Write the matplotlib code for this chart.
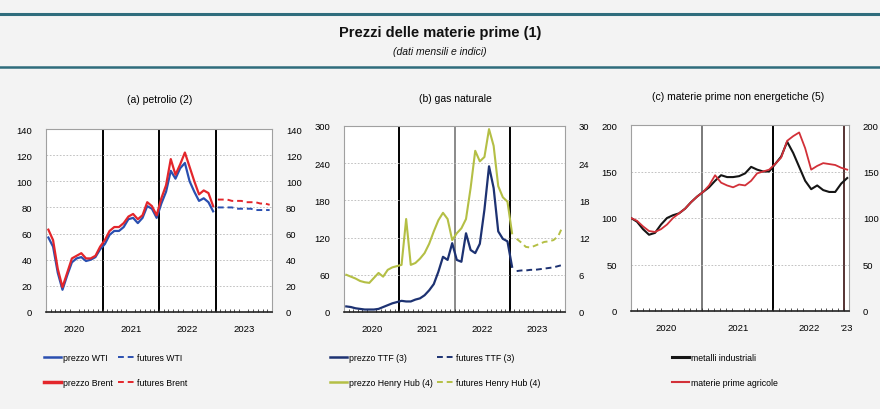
import numpy as np
import matplotlib
matplotlib.use("Agg")
import matplotlib.pyplot as plt
from matplotlib.lines import Line2D

plt.rcParams['font.family'] = ['Liberation Sans', 'DejaVu Sans']

# ---------------- data ----------------
# (a) oil, monthly Jan 2020 - Dec 2022; futures Jan - Dec 2023
brent = [63, 55, 33, 19, 30, 41, 43, 45, 41, 41, 43, 50,
         55, 62, 65, 65, 68, 73, 75, 71, 74, 84, 81, 74,
         87, 97, 117, 105, 113, 122, 111, 100, 90, 93, 91, 81]
wti = [57, 50, 30, 17, 28, 38, 41, 42, 39, 40, 42, 48,
       52, 59, 62, 62, 65, 71, 72, 68, 72, 81, 79, 72,
       83, 92, 108, 102, 110, 114, 100, 92, 85, 87, 84, 77]
fut_brent = [86, 86, 86, 85, 85, 85, 84, 84, 84, 83, 83, 82]
fut_wti = [80, 80, 80, 80, 79, 79, 79, 79, 78, 78, 78, 78]

# (b) gas, monthly Jan 2020 - Jan 2023; futures Feb - Dec 2023
ttf = [9, 8, 6, 5, 4, 4, 4, 5, 8, 11, 14, 16,
       18, 17, 17, 20, 22, 27, 35, 45, 65, 89, 84, 111,
       84, 81, 127, 100, 95, 110, 165, 235, 200, 130, 118, 114,
       73]
henry_hub = [6.0, 5.7, 5.4, 5.0, 4.8, 4.7, 5.5, 6.3, 5.7, 6.8, 7.2, 7.4,
             7.6, 15.0, 7.6, 7.9, 8.6, 9.5, 11.0, 13.0, 14.8, 16.0, 15.0, 11.6,
             12.7, 13.5, 15.0, 20.0, 26.0, 24.3, 25.0, 29.5, 26.8, 20.3, 18.5, 17.8,
             12.7]
fut_ttf = [66, 67, 67, 68, 68, 69, 70, 71, 72, 74, 76]
fut_hh = [11.8, 11.2, 10.5, 10.4, 10.7, 11.0, 11.3, 11.4, 11.6, 12.2, 13.8]

# (c) non-energy commodities index, monthly Jan 2020 - Jan 2023
metals = [100, 96, 88, 82, 84, 93, 100, 103, 105, 110, 117, 123,
          128, 133, 140, 146, 144, 144, 145, 148, 155, 152, 150, 150,
          158, 166, 182, 170, 155, 140, 131, 135, 130, 128, 128, 137,
          143]
agri = [100, 97, 91, 86, 85, 88, 93, 100, 105, 110, 117, 123,
        128, 135, 146, 138, 135, 133, 136, 135, 140, 148, 150, 152,
        158, 165, 183, 188, 192, 175, 152, 156, 159, 158, 157, 154,
        152]

years4 = ['2020', '2021', '2022', '2023']
years_c = ['2020', '2021', '2022', "'23"]

# ---------------- figure ----------------
W, H = 880, 410
fig = plt.figure(figsize=(8.8, 4.1), dpi=100, facecolor='#f3f3f3')

def fx(px):
    return px / W

def fy(py):
    return 1 - py / H

teal = '#2f6c7c'
fig.add_artist(Line2D([0, 1], [fy(15), fy(15)], color=teal, lw=2.2))
fig.add_artist(Line2D([0, 1], [fy(68), fy(68)], color=teal, lw=1.8))
fig.text(0.5, fy(33), 'Prezzi delle materie prime (1)', ha='center', va='center',
         fontsize=10.5, fontweight='bold', color='#111111')
fig.text(0.5, fy(52), '(dati mensili e indici)', ha='center', va='center',
         fontsize=7.5, style='italic', color='#111111')

tick_fs = 6.8

def setup(ax, xmax, ylim, yticks, rticks, rlabels, dividers, div_colors, ylabels, xlabels):
    ax.set_facecolor('white')
    ax.set_xlim(0, xmax)
    ax.set_ylim(*ylim)
    ax.set_yticks(yticks)
    ax.set_yticklabels(ylabels, fontsize=tick_fs)
    ax.grid(axis='y', color='#b8b8b8', lw=0.6, ls=(0, (2, 2)))
    for d, c in zip(dividers, div_colors):
        ax.axvline(d, color=c, lw=1.4, zorder=1)
    centers = [6 + 12 * k for k in range(len(xlabels))]
    if xmax < 40:
        centers[-1] = (36 + xmax) / 2
    ax.set_xticks(centers)
    ax.set_xticklabels(xlabels, fontsize=tick_fs)
    ax.tick_params(axis='x', length=0, pad=9)
    ax.set_xticks(np.arange(0, xmax + 0.01, 1), minor=True)
    ax.tick_params(axis='x', which='minor', direction='in', length=2, color='#333333')
    ax.tick_params(axis='y', length=0, pad=10)
    for s in ['left', 'right', 'top']:
        ax.spines[s].set_color('#a0a0a0')
        ax.spines[s].set_linewidth(0.8)
    ax.spines['bottom'].set_color('#222222')
    ax.spines['bottom'].set_linewidth(1.2)
    r = ax.twinx()
    r.set_ylim(ylim[0] * rticks[-1] / yticks[-1], ylim[1] * rticks[-1] / yticks[-1])
    r.set_yticks(rticks)
    r.set_yticklabels(rlabels, fontsize=tick_fs)
    r.tick_params(axis='y', length=0, pad=10)
    for s in r.spines.values():
        s.set_visible(False)
    return r

# ---- (a) petrolio ----
axa = fig.add_axes([fx(46), fy(313), fx(272 - 46), (313 - 130) / H])
ra = setup(axa, 48, (0, 140), list(range(0, 141, 20)), list(range(0, 141, 20)),
           [str(v) for v in range(0, 141, 20)], [12, 24, 36], ['k', 'k', 'k'],
           [str(v) for v in range(0, 141, 20)], years4)
xm = np.arange(len(brent)) + 0.5
xf = np.arange(len(fut_brent)) + 36.5
c_wti = '#2a4fb0'
c_brent = '#e3262b'
axa.plot(xm, wti, color=c_wti, lw=1.6, zorder=3)
axa.plot(xm, brent, color=c_brent, lw=1.6, zorder=4)
axa.plot(xf, fut_wti, color=c_wti, lw=1.4, ls=(0, (3, 2)), zorder=3)
axa.plot(xf, fut_brent, color=c_brent, lw=1.4, ls=(0, (3, 2)), zorder=4)
fig.text(fx(160), fy(100), '(a) petrolio (2)', ha='center', va='center', fontsize=7.5)
ha = [Line2D([], [], color=c_wti, lw=1.8), Line2D([], [], color=c_brent, lw=2.5),
      Line2D([], [], color=c_wti, lw=1.4, ls=(0, (3, 2))),
      Line2D([], [], color=c_brent, lw=1.4, ls=(0, (3, 2)))]
fig.legend(ha, ['prezzo WTI', 'prezzo Brent', 'futures WTI', 'futures Brent'],
           loc='upper left', bbox_to_anchor=(fx(36), fy(346)), ncol=2, frameon=False,
           fontsize=6.3, handlelength=1.9, handletextpad=0.3, columnspacing=0.6,
           labelspacing=1.85)

# ---- (b) gas naturale ----
axb = fig.add_axes([fx(344), fy(313), fx(565 - 344), (313 - 127) / H])
rb = setup(axb, 48, (0, 300), list(range(0, 301, 60)), list(range(0, 31, 6)),
           [str(v) for v in range(0, 31, 6)], [12, 24, 36], ['k', '#8a8a8a', 'k'],
           [str(v) for v in range(0, 301, 60)], years4)
xg = np.arange(len(ttf)) + 0.5
xgf = np.arange(len(fut_ttf)) + 37.5
c_ttf = '#1d3272'
c_hh = '#b4bf45'
rb.plot(xg, henry_hub, color=c_hh, lw=1.5, zorder=2)
rb.plot(xgf, fut_hh, color=c_hh, lw=1.4, ls=(0, (3, 2)), zorder=2)
rb.set_zorder(axb.get_zorder() + 1)
rb.patch.set_visible(False)
rb.plot(xg, [v / 10 for v in ttf], color=c_ttf, lw=1.6, zorder=3)
rb.plot(xgf, [v / 10 for v in fut_ttf], color=c_ttf, lw=1.4, ls=(0, (3, 2)), zorder=3)
fig.text(fx(455), fy(99), '(b) gas naturale', ha='center', va='center', fontsize=7.5)
hb = [Line2D([], [], color=c_ttf, lw=1.8), Line2D([], [], color=c_hh, lw=1.8),
      Line2D([], [], color=c_ttf, lw=1.4, ls=(0, (3, 2))),
      Line2D([], [], color=c_hh, lw=1.4, ls=(0, (3, 2)))]
fig.legend(hb, ['prezzo TTF (3)', 'prezzo Henry Hub (4)', 'futures TTF (3)',
                'futures Henry Hub (4)'],
           loc='upper left', bbox_to_anchor=(fx(322), fy(346)), ncol=2, frameon=False,
           fontsize=6.3, handlelength=1.9, handletextpad=0.3, columnspacing=0.4,
           labelspacing=1.85)

# ---- (c) materie prime non energetiche ----
axc = fig.add_axes([fx(631), fy(312), fx(849 - 631), (312 - 126) / H])
rc = setup(axc, 36.8, (0, 200), list(range(0, 201, 50)), list(range(0, 201, 50)),
           [str(v) for v in range(0, 201, 50)], [12, 24, 36], ['#7a7a7a', 'k', '#553333'],
           [str(v) for v in range(0, 201, 50)], years_c)
xc = np.arange(len(metals)) * (36.5 / 36)
c_met = '#151515'
c_agr = '#d23038'
axc.plot(xc, metals, color=c_met, lw=1.5, zorder=3)
axc.plot(xc, agri, color=c_agr, lw=1.3, zorder=4)
fig.text(fx(738), fy(97), '(c) materie prime non energetiche (5)', ha='center',
         va='center', fontsize=7.5)
hc = [Line2D([], [], color=c_met, lw=2.2), Line2D([], [], color=c_agr, lw=1.5)]
fig.legend(hc, ['metalli industriali', 'materie prime agricole'],
           loc='upper left', bbox_to_anchor=(fx(664), fy(346)), ncol=1, frameon=False,
           fontsize=6.3, handlelength=1.9, handletextpad=0.3, labelspacing=1.85)

fig.savefig('out.png', dpi=100, facecolor=fig.get_facecolor())
